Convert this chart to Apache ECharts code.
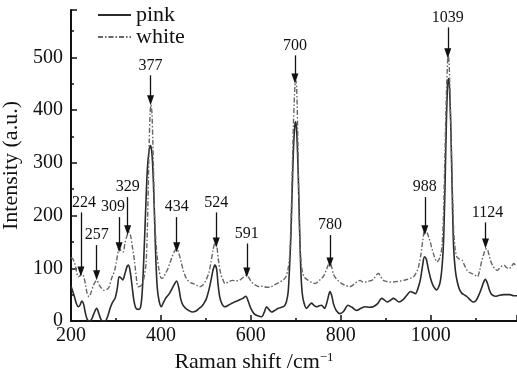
<!DOCTYPE html>
<html>
<head>
<meta charset="utf-8">
<script src="https://cdn.jsdelivr.net/npm/echarts@6/dist/echarts.min.js"></script>
<style>
html,body{margin:0;padding:0;background:#fff;}
#c{width:517px;height:372px;}
</style>
</head>
<body>
<div id="c"></div>
<script>
// ---- data ----
const seriesNames = ['pink', 'white'];
const pinkX = [200,204,208,212,216,220,224,228,232,236,240,245,250,257,262,266,270,276,282,287,292,298,303,307,311,315,320,325,328,332,336,340,344,349,354,358,362,366,370,374,377,380,383,386,389,392,396,401,406,412,418,424,430,435,440,444,449,455,462,470,478,485,491,496,501,507,512,516,520,524,527,531,536,542,550,559,566,574,582,589,594,600,607,615,624,630,635,640,646,653,661,668,674,679,683,686,689,692,695,698,700,702,705,708,711,714,718,724,730,735,740,746,752,757,764,770,776,780,784,790,798,806,816,825,835,845,854,863,872,882,891,897,903,910,917,923,929,938,947,955,961,966,971,977,982,986,990,995,1000,1004,1009,1013,1018,1022,1026,1029,1032,1035,1038,1040,1042,1045,1048,1051,1055,1059,1064,1070,1076,1081,1088,1094,1100,1107,1113,1119,1122,1126,1131,1136,1144,1153,1163,1176,1185,1192];
const pinkY = [66,56,45,33,27,30,38,32,15,3,0,2,12,24,14,4,0,0,10,24,35,43,62,84,82,78,90,104,106,92,65,38,25,22,24,50,120,210,290,325,333,318,270,190,110,62,38,27,36,45,51,60,70,76,62,42,30,24,20,17,19,24,28,34,42,60,80,97,106,98,70,45,32,27,30,34,37,40,43,47,38,24,14,10,8,17,27,22,17,20,24,26,28,36,55,100,160,250,330,372,378,360,290,190,100,55,35,24,30,34,30,27,29,30,24,38,56,48,32,20,14,18,30,26,20,24,27,26,27,33,43,40,36,39,43,40,36,40,49,56,54,52,60,78,105,122,118,98,80,70,62,59,65,78,110,160,260,380,455,460,440,360,240,140,95,75,60,52,49,46,40,36,38,49,62,76,79,72,58,50,47,49,50,50,48,48];
const whiteX = [200,204,208,212,216,220,224,228,232,236,240,245,250,257,263,268,274,280,285,290,297,301,305,308,312,316,320,325,329,333,337,341,345,349,354,359,363,367,370,372,374,376,378,380,382,384,386,389,392,396,401,405,410,415,420,425,430,435,440,445,450,457,465,472,479,486,493,500,506,511,516,520,524,528,533,538,543,550,559,566,574,582,589,595,600,606,613,619,626,635,643,651,658,665,672,678,682,686,689,692,695,698,700,702,704,706,708,711,715,720,728,736,743,750,756,761,767,772,776,780,784,790,796,802,810,820,830,837,843,850,858,864,869,875,880,884,889,895,902,910,917,925,933,940,948,955,962,968,973,978,982,985,988,992,996,999,1002,1006,1010,1014,1018,1021,1025,1028,1031,1034,1037,1039,1041,1043,1046,1049,1051,1054,1058,1063,1070,1075,1081,1086,1092,1098,1104,1109,1113,1118,1122,1125,1129,1133,1138,1143,1148,1153,1158,1163,1168,1174,1179,1185,1189,1192];
const whiteY = [120,118,110,95,84,86,90,85,70,52,46,55,68,77,68,62,58,60,65,80,96,112,132,138,132,131,148,163,169,160,138,115,85,65,66,71,85,110,180,260,340,395,410,395,340,270,200,150,120,96,81,82,90,98,110,122,132,137,128,112,95,80,73,71,68,65,68,77,90,110,135,147,143,115,90,78,71,74,77,76,77,82,87,83,76,70,67,65,66,64,64,68,71,74,78,84,95,120,180,280,380,445,457,440,370,270,180,120,92,82,77,73,71,75,80,84,95,106,112,102,88,80,75,71,68,65,70,75,77,74,74,76,77,82,88,90,84,77,75,74,74,75,76,77,79,81,84,92,103,125,150,168,173,168,158,150,140,128,118,112,116,122,140,190,290,400,480,505,490,430,330,230,175,140,122,118,115,106,96,92,90,87,84,96,112,127,136,137,128,115,105,99,96,100,104,106,102,99,103,109,106,106];
// peak annotations: label, arrow x, arrow top value, arrow tip value
const peakLabels = ['224','257','309','329','377','434','524','591','700','780','988','1039','1124'];
const peakX     = [222, 257, 307, 326, 377, 435, 523, 591, 698, 776, 987, 1038, 1122];
const arrowTop  = [206, 144, 197, 235, 466, 197, 206, 147, 504, 163, 235, 557, 187];
const arrowTip  = [94,  87,  140, 172, 419, 140, 149, 92,  460, 111, 172, 508, 147];
const labelDx   = [3, 0, -6, 0, 0, 0, 0, 0, 0, 0, 0, 0, 2];
const xTicks = [200, 400, 600, 800, 1000];
const yTicks = [0, 100, 200, 300, 400, 500];

const FONT = '"Liberation Serif", "DejaVu Serif", serif';
const zip = (xs, ys) => xs.map((x, i) => [x, ys[i]]);

const markData = peakLabels.map((lab, i) => [
  { coord: [peakX[i], arrowTop[i]], name: lab, symbol: 'none', label: { offset: [labelDx[i], 0] } },
  { coord: [peakX[i], arrowTip[i]], symbol: 'triangle', symbolSize: [7, 10] }
]);

const chart = echarts.init(document.getElementById('c'), null, { renderer: 'canvas' });
chart.setOption({
  animation: false,
  backgroundColor: '#fff',
  textStyle: { fontFamily: FONT, color: '#111' },
  grid: { left: 71, right: 0, top: 10, bottom: 51, containLabel: false, outerBoundsMode: 'none' },
  legend: {
    orient: 'vertical', left: 97, top: 4, padding: 0, itemWidth: 33, itemHeight: 10, itemGap: 0,
    itemStyle: { opacity: 0 },
    textStyle: { fontFamily: FONT, fontSize: 22, color: '#111', lineHeight: 20 },
    data: seriesNames
  },
  xAxis: {
    type: 'value', min: 200, max: 1192, interval: 200,
    name: '{a|Raman shift /cm}{s|−1}', nameLocation: 'middle', nameGap: 23,
    nameTextStyle: {
      fontFamily: FONT, fontSize: 22, color: '#111', padding: [0, 80, 0, 0],
      rich: { a: { fontFamily: FONT, fontSize: 22, color: '#111' },
              s: { fontFamily: FONT, fontSize: 13, color: '#111', verticalAlign: 'top', padding: [0, 0, 9, 0] } }
    },
    axisLine: { onZero: false, lineStyle: { color: '#111', width: 2 } },
    axisTick: { inside: true, length: 6, lineStyle: { color: '#111', width: 1.5 } },
    minorTick: { show: true, splitNumber: 2, length: 3, lineStyle: { color: '#111', width: 1.5 } },
    axisLabel: { fontFamily: FONT, fontSize: 20, color: '#111', margin: 5, showMaxLabel: false,
      formatter: v => (xTicks.indexOf(v) >= 0 ? String(v) : '') },
    splitLine: { show: false }
  },
  yAxis: {
    type: 'value', min: 0, max: 590, interval: 100,
    name: 'Intensity (a.u.)', nameLocation: 'middle', nameGap: 41,
    nameTextStyle: { fontFamily: FONT, fontSize: 22, color: '#111' },
    axisLine: { show: true, lineStyle: { color: '#111', width: 2 } },
    axisTick: { inside: true, length: 6, lineStyle: { color: '#111', width: 1.5 } },
    minorTick: { show: true, splitNumber: 2, length: 3, lineStyle: { color: '#111', width: 1.5 } },
    axisLabel: { fontFamily: FONT, fontSize: 20, color: '#111', margin: 8, showMaxLabel: false,
      formatter: v => (yTicks.indexOf(v) >= 0 ? String(v) : '') },
    splitLine: { show: false }
  },
  series: [
    {
      name: seriesNames[0], type: 'line', symbol: 'none', smooth: 0.3,
      data: zip(pinkX, pinkY),
      lineStyle: { color: '#2a2a2a', width: 1.6 },
      itemStyle: { color: '#2a2a2a' }
    },
    {
      name: seriesNames[1], type: 'line', symbol: 'none', smooth: 0.3,
      data: zip(whiteX, whiteY),
      lineStyle: { color: '#666', width: 1.4, type: [5, 2, 1.5, 2] },
      itemStyle: { color: '#666' },
      markLine: {
        silent: true, symbol: ['none', 'triangle'], symbolSize: 10,
        lineStyle: { color: '#111', width: 1.3, type: 'solid' },
        itemStyle: { color: '#111' },
        label: { show: true, position: 'start', distance: 2, formatter: '{b}',
                 fontFamily: FONT, fontSize: 16, color: '#111' },
        data: markData
      }
    }
  ]
});
</script>
</body>
</html>
